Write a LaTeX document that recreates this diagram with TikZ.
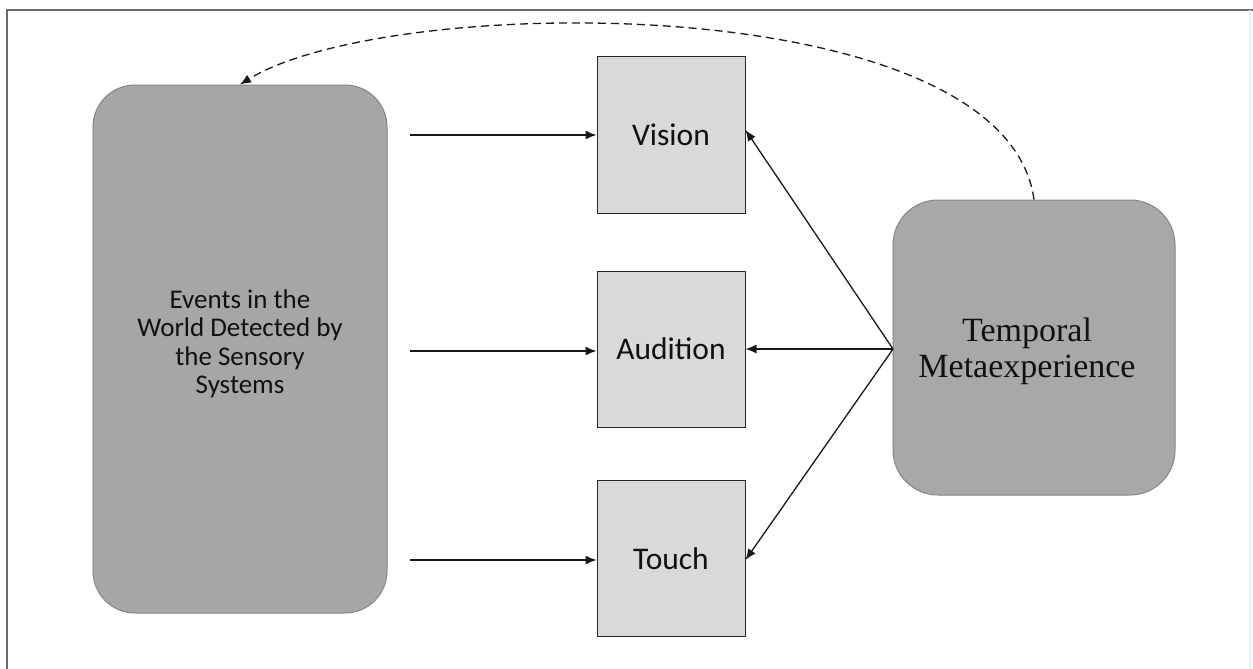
\documentclass[tikz,border=0pt]{standalone}
\usepackage{fontspec}
\setmainfont{Carlito}
\newfontfamily\timesf{Liberation Serif}
\usetikzlibrary{arrows.meta}
\definecolor{framec}{HTML}{5E6E78}
\definecolor{bigfill}{HTML}{A6A6A6}
\definecolor{bigborder}{HTML}{7A8896}
\definecolor{tmfill}{HTML}{AAA7A7}
\definecolor{smallfill}{HTML}{D9D9D9}
\definecolor{txt}{HTML}{111111}
\begin{document}
\begin{tikzpicture}[x=1pt,y=-1pt,
  bigbox/.style={draw=bigborder,line width=1pt,fill=bigfill,rounded corners=42pt,
    minimum width=294pt,minimum height=528pt,inner sep=0pt},
  tmbox/.style={draw=bigborder,line width=1pt,fill=tmfill,rounded corners=45pt,
    minimum width=282pt,minimum height=295pt,inner sep=0pt},
  sense/.style={draw=black!85,line width=1pt,fill=smallfill,
    minimum width=148pt,minimum height=156pt,inner sep=0pt,
    font=\fontsize{31.5}{34}\selectfont,text=txt},
  conn/.style={line width=1.3pt,draw=black!90,-{Latex[length=11pt,width=9pt]}},
  loopc/.style={line width=1.3pt,draw=black!90,dash pattern=on 8pt off 5pt,-{Latex[length=11pt,width=9pt]}},
  lbl/.style={inner sep=0pt,align=center,text=txt}]
\useasboundingbox (0,0) rectangle (1253,669);
\fill[white] (0,0) rectangle (1253,669);
\draw[framec,line width=1.5pt] (7,669) -- (7,10) -- (1253,10);
\draw[cyan!15,line width=1.5pt] (1250,10) -- (1250,669);

\node[bigbox] (world) at (240,349) {};
\node[lbl,font=\fontsize{27}{28.5}\selectfont] (worldt) at (240,344)
  {Events in the\\World Detected by\\the Sensory\\Systems};

\node[sense] (vision) at (671,135) {Vision};
\node[sense] (audition) at (671,349) {Audition};
\node[sense] (touch) at (671,558.5) {Touch};

\node[tmbox] (tm) at (1034,347.5) {};
\node[lbl,font=\timesf\fontsize{34}{36}\selectfont] (tmt) at (1027,351)
  {Temporal\\Metaexperience};

\coordinate (s1) at (410,135);
\coordinate (s2) at (410,351);
\coordinate (s3) at (410,560);
\draw[conn] (s1) -- (s1 -| vision.west);
\draw[conn] (s2) -- (s2 -| audition.west);
\draw[conn] (s3) -- (s3 -| touch.west);

\coordinate (hub) at (893,349);
\draw[conn] (hub) -- ([yshift=5pt]vision.east);
\draw[conn] (hub) -- (audition.east);
\draw[conn] (hub) -- ([yshift=-1.5pt]touch.east);

\draw[loopc] (tm.north) .. controls (1005,-12) and (390,-8) .. (world.north);
\end{tikzpicture}
\end{document}
